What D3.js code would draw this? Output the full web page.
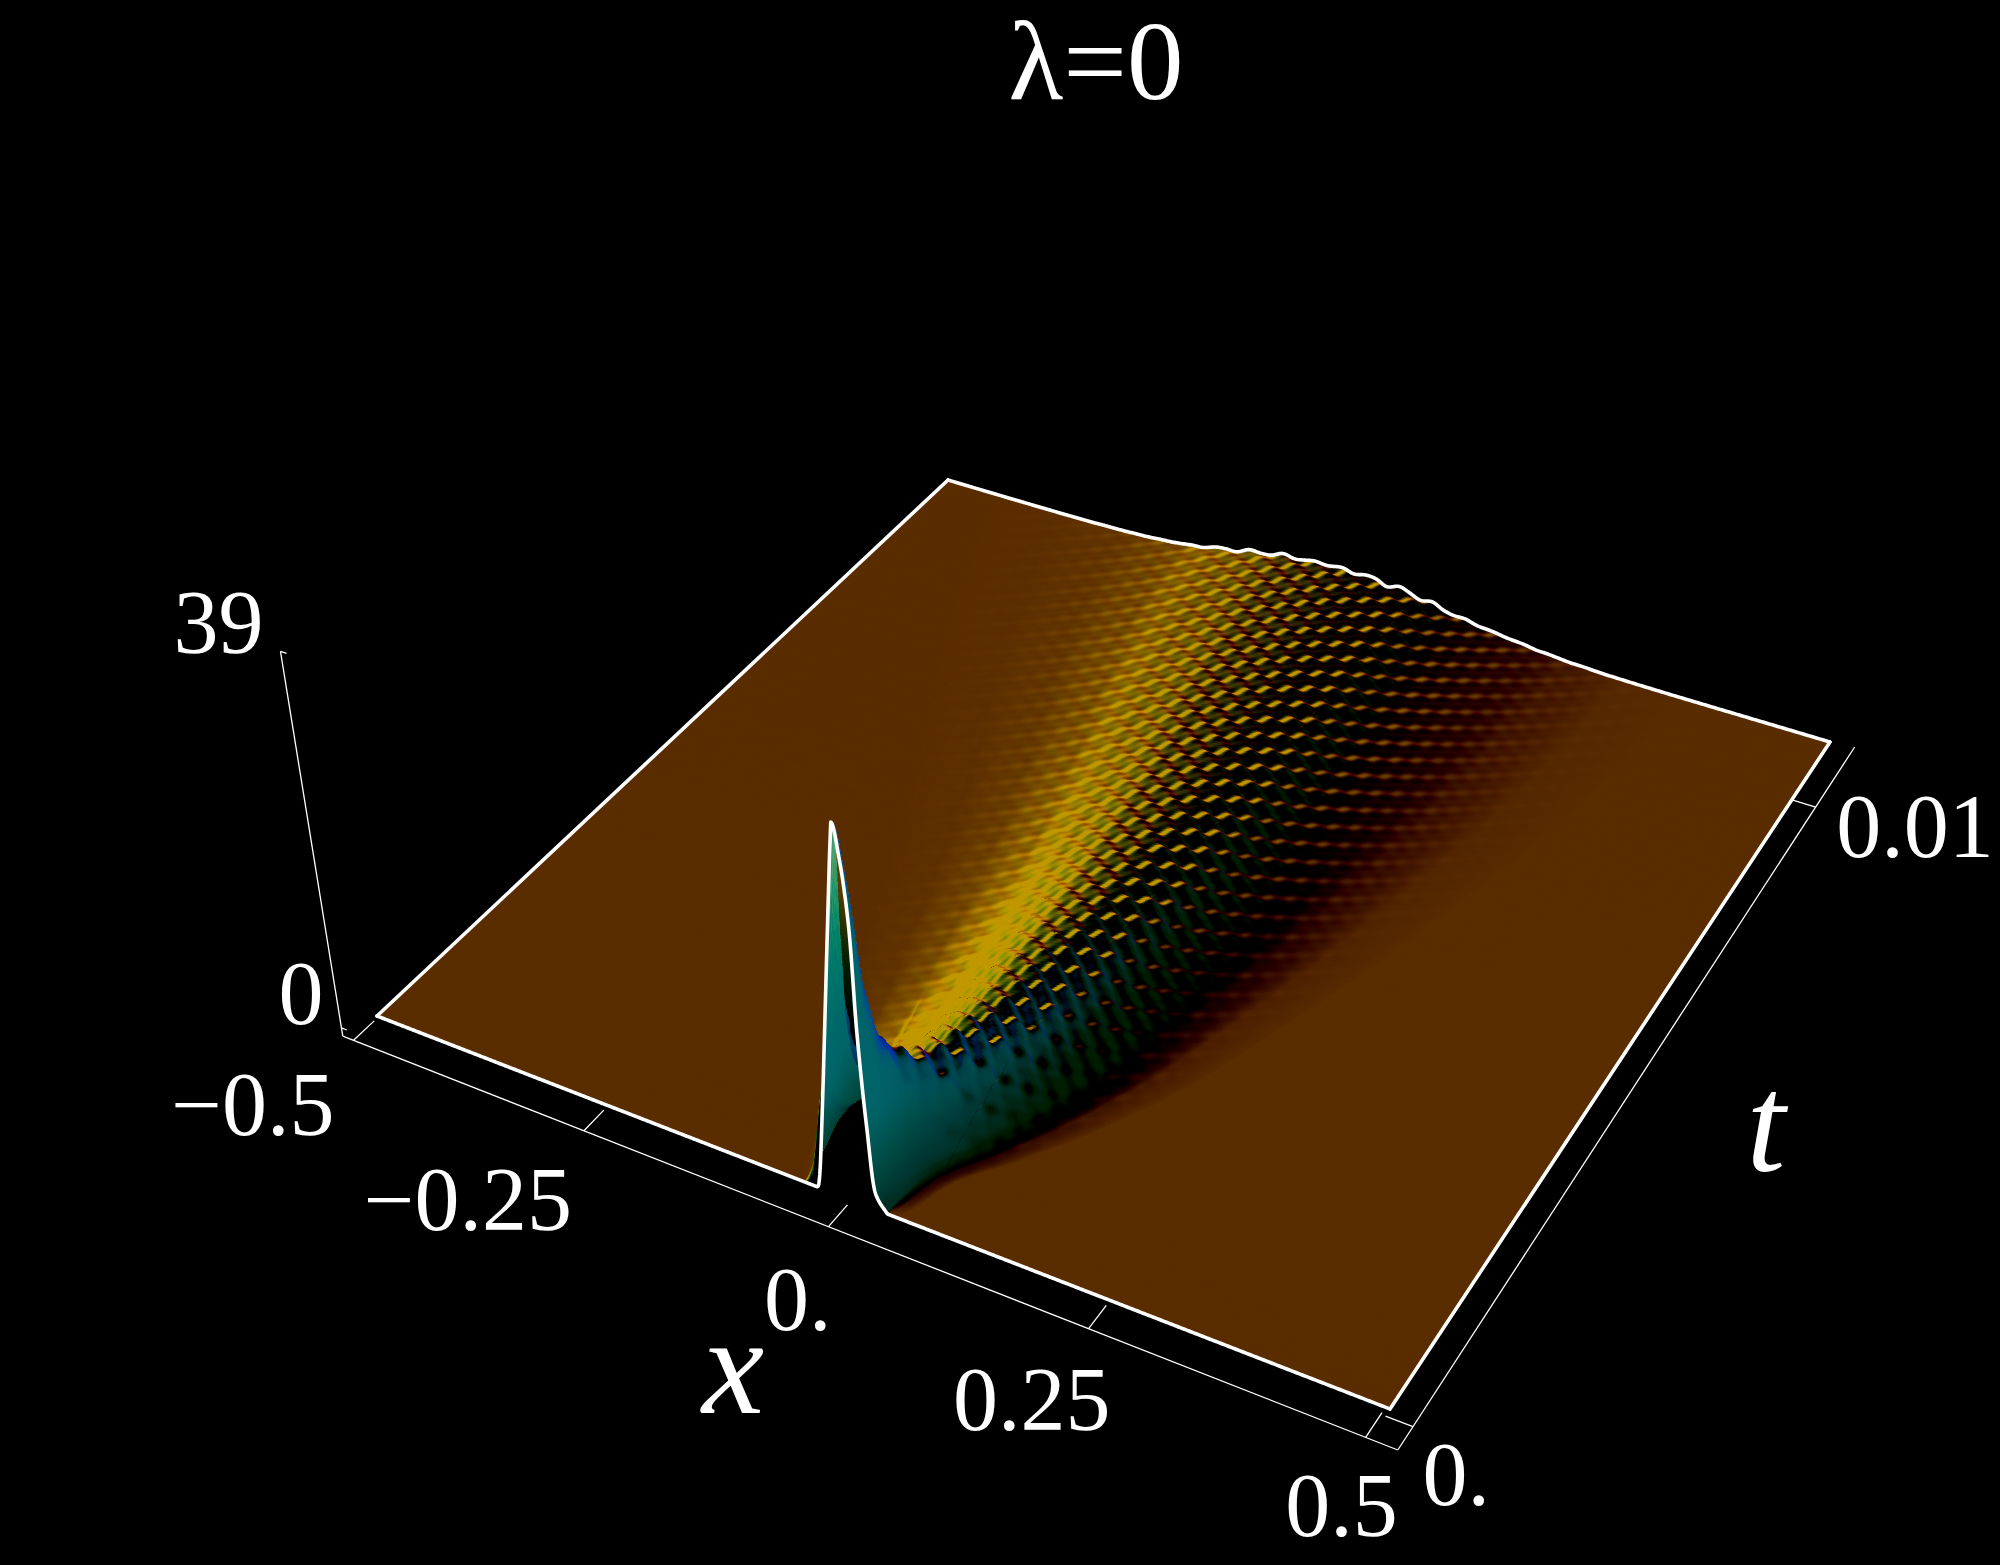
<!DOCTYPE html>
<html><head><meta charset="utf-8">
<style>html,body{margin:0;background:#000;width:2000px;height:1565px;overflow:hidden}
canvas,svg{position:absolute;left:0;top:0}
text{font-family:"Liberation Serif",serif;fill:#fff}</style>
<script src="https://cdn.jsdelivr.net/npm/d3@7/dist/d3.min.js"></script>
</head><body>
<canvas id="surface" width="2000" height="1565"></canvas>
<svg id="overlay" width="2000" height="1565"></svg>
<script>
// ---- values ----------------------------------------------------------
const titleText = "λ=0";
const xTicks = [-0.5, -0.25, 0, 0.25, 0.5];
const xTickLabels = ["−0.5", "−0.25", "0.", "0.25", "0.5"];
const tTicks = [0, 0.01];
const tTickLabels = ["0.", "0.01"];
const zTicks = [0, 39];
const zTickLabels = ["0", "39"];
// wave-packet summary against t (height, centre, half width, sharpness mix, ripple share): estimates
const tKnots   = [0, 0.0003, 0.0006, 0.0012, 0.002, 0.003, 0.0045, 0.0065, 0.0085, 0.011];
const humpH    = [39, 29, 19, 10, 7.0, 5.6, 4.6, 3.9, 3.5, 3.2];
const humpC    = [0, -0.001, -0.002, 0.008, 0.015, 0.02, 0.02, 0.01, -0.01, -0.03];
const humpW    = [0.032, 0.036, 0.042, 0.06, 0.085, 0.11, 0.14, 0.18, 0.22, 0.25];
const humpMix  = [0, 0.15, 0.35, 0.7, 0.95, 1, 1, 1, 1, 1];
const rippleShare = [0, 0.006, 0.012, 0.05, 0.07, 0.07, 0.06, 0.06, 0.06, 0.06];
// pulse section at t=0, same with its low left skirt just after t=0, and spread section at late t
const frontXi = [-1.6, -1.1, -1.06, -1.02, -0.99, -0.97, -0.955, -0.70, -0.40, -0.05, 0.34, 0.70, 1.0, 1.1, 1.6];
const frontZ  = [0, 0, 0.005, 0.05, 0.30, 0.77, 1, 0.92, 0.77, 0.49, 0.236, 0.046, 0.008, 0, 0];
const skirtXi = [-1.5, -1.3, -1.12, -1.02, -0.99, -0.97, -0.955, -0.70, -0.40, -0.05, 0.34, 0.70, 1.0, 1.1, 1.6];
const skirtZ  = [0, 0.05, 0.28, 0.36, 0.5, 0.8, 1, 0.92, 0.77, 0.49, 0.236, 0.046, 0.008, 0, 0];
const skirtT  = [0, 0.00005];
const skirtOn = [0, 1];
const lateXi  = [-1.7, -1.3, -1.0, -0.75, -0.53, -0.25, 0, 0.25, 0.53, 0.78, 1.0, 1.25, 1.55];
const lateZ   = [0, 0.012, 0.06, 0.2, 0.5, 0.88, 1, 0.88, 0.5, 0.25, 0.09, 0.015, 0];
// ripple lattice: cycles per unit x and per unit t of the two crossing wave trains (measured spacing)
const waveA = [28.9, 3544];
const waveB = [23.8, -3048];
const rippleMix = [1.0, 0.55, 0.15];
const rowSharpness = 0.35;

// ---- view calibration ------------------------------------------------
const cornerLeft = [377, 1016], cornerBottom = [1390, 1409], cornerRight = [1830, 742], cornerTop = [948, 480];
const nadir = [763, 3631];
const xDomain = [-0.5, 0.5], tDomain = [0, 0.011], zDomain = [-1, 39];
const xU = d3.scaleLinear().domain(xDomain).range([0, 1]);
const tV = d3.scaleLinear().domain(tDomain).range([0, 1]);
const axisU = [-0.018, 1.022], axisV = [-0.028, 1.018];
const zAxisStretch = 1.02;

function quadToH(p0, p1, p2, p3) {
  const dx1 = p1[0]-p2[0], dx2 = p3[0]-p2[0], sx = p0[0]-p1[0]+p2[0]-p3[0];
  const dy1 = p1[1]-p2[1], dy2 = p3[1]-p2[1], sy = p0[1]-p1[1]+p2[1]-p3[1];
  const den = dx1*dy2-dx2*dy1, g = (sx*dy2-dx2*sy)/den, h = (dx1*sy-sx*dy1)/den;
  return {a:p1[0]-p0[0]+g*p1[0], b:p3[0]-p0[0]+h*p3[0], c:p0[0], d:p1[1]-p0[1]+g*p1[1], e:p3[1]-p0[1]+h*p3[1], f:p0[1], g, h};
}
const H = quadToH(cornerLeft, cornerBottom, cornerRight, cornerTop);
const gammaZ = -(H.g*xU(-0.028)+1)*367/(39*2811);
function projUV(u, v, z) {
  const W = H.g*u+H.h*v+1+gammaZ*z;
  return [(H.a*u+H.b*v+H.c+nadir[0]*gammaZ*z)/W, (H.d*u+H.e*v+H.f+nadir[1]*gammaZ*z)/W];
}
const project = (x, t, z) => projUV(xU(x), tV(t), z);

// monotone cubic through a table
function table(xs, ys) {
  const n = xs.length, dl = [], m = new Array(n).fill(0);
  for (let i = 0; i < n-1; i++) dl[i] = (ys[i+1]-ys[i])/(xs[i+1]-xs[i]);
  for (let i = 1; i < n-1; i++) m[i] = dl[i-1]*dl[i] <= 0 ? 0 : 2*dl[i-1]*dl[i]/(dl[i-1]+dl[i]);
  return v => {
    if (v <= xs[0]) return ys[0];
    if (v >= xs[n-1]) return ys[n-1];
    let i = d3.bisectRight(xs, v)-1;
    const h = xs[i+1]-xs[i], s = (v-xs[i])/h, s2 = s*s, s3 = s2*s;
    return (2*s3-3*s2+1)*ys[i]+(s3-2*s2+s)*h*m[i]+(-2*s3+3*s2)*ys[i+1]+(s3-s2)*h*m[i+1];
  };
}
const fH = table(tKnots, humpH), fC = table(tKnots, humpC), fW = table(tKnots, humpW),
      fM = table(tKnots, humpMix), fR = table(tKnots, rippleShare),
      fFront = table(frontXi, frontZ), fSkirt = table(skirtXi, skirtZ), fLate = table(lateXi, lateZ),
      fOn = table(skirtT, skirtOn);

const TAU = 2*Math.PI;
function height(x, t, rowH, rowC, rowW, rowM, rowR, rowS) {
  const xi = (x-rowC)/rowW;
  const early = (1-rowS)*fFront(xi)+rowS*fSkirt(xi);
  const env = rowH*((1-rowM)*early+rowM*fLate(xi));
  if (env < 1e-4) return 0;
  const a = TAU*(waveA[0]*x+waveA[1]*t), b = TAU*(waveB[0]*x+waveB[1]*t);
  const rip = rippleMix[0]*Math.cos(a)+rippleMix[1]*(Math.sin(b)+rowSharpness*Math.sin(2*b))+rippleMix[2]*Math.cos(a+b);
  return env+rowR*env*rip;
}

// ---- mesh ------------------------------------------------------------
const xGrid = [], tGrid = [];
for (let x = -0.5; x < -0.08; x += 0.0016) xGrid.push(x);
for (let x = -0.08; x < 0.05; x += 0.0004) xGrid.push(x);
for (let x = 0.05; x <= 0.5001; x += 0.0016) xGrid.push(x);
for (let t = 0; t < 0.0015; t += 0.00001) tGrid.push(t);
for (let t = 0.0015; t <= 0.011001; t += 0.00002) tGrid.push(t);
const nx = xGrid.length, nt = tGrid.length;
const Z = new Float32Array(nx*nt), PX = new Float32Array(nx*nt), PY = new Float32Array(nx*nt);
for (let j = 0; j < nt; j++) {
  const t = tGrid[j], rh = fH(t), rc = fC(t), rw = fW(t), rm = fM(t), rr = fR(t), rs = fOn(t);
  for (let i = 0; i < nx; i++) {
    const z = height(xGrid[i], t, rh, rc, rw, rm, rr, rs), k = j*nx+i;
    Z[k] = z;
    const p = project(xGrid[i], t, z);
    PX[k] = p[0]; PY[k] = p[1];
  }
}

// ---- shading ---------------------------------------------------------
const zSlope = 0.012;
const sst = (a, b, v) => { const s = Math.max(0, Math.min(1, (v-a)/(b-a))); return s*s*(3-2*s); };
function shade(p, q, r, under, zf) {
  const steep = p > 0 ? Math.hypot(p, q) : 0;
  const qs = steep > 0 ? q/steep : 0;
  const low = 0.5+0.5*sst(0, 0.3, zf);
  let Rv = Math.min(0.76, Math.max(0, 0.36*r-1.15*p+0.7*q));
  let G1 = Math.min(0.6, Math.max(0, 0.18*r-1.1*p+0.42*q));
  let G2 = 0.12*sst(0.35, 0.6, p)+Math.max(0, 0.9*steep-0.62)*(1-0.6*sst(0.2, 0.7, qs))*low;
  let Bv = 0.55*sst(0.6, 0.97, steep)*(0.75+0.5*sst(0.2, 0.7, qs))*low;
  if (steep > 0.9) Rv = 0;
  if (under) { Rv += 0.38*sst(0.55, 0.9, zf); G2 += 0.25*sst(0.3, 0.9, zf); }
  const c = v => Math.round(Math.min(1, v)*255);
  return `rgb(${c(Rv)},${c(Math.max(G1, G2))},${c(Bv)})`;
}

const ctx = document.getElementById("surface").getContext("2d");
ctx.fillStyle = "#000"; ctx.fillRect(0, 0, 2000, 1565);
ctx.lineWidth = 0.8;
ctx.lineJoin = "round";
const flatTol = 0.0015, flatColour = shade(0, 0, 1, false, 0);
function fillRun(j, i0, i1) {
  ctx.fillStyle = flatColour; ctx.strokeStyle = flatColour;
  ctx.beginPath();
  const a = j*nx+i0, b = j*nx+i1, c = (j+1)*nx+i1, d = (j+1)*nx+i0;
  ctx.moveTo(PX[a], PY[a]); ctx.lineTo(PX[b], PY[b]); ctx.lineTo(PX[c], PY[c]); ctx.lineTo(PX[d], PY[d]);
  ctx.closePath(); ctx.fill(); ctx.stroke();
}
for (let j = nt-2; j >= 0; j--) {
  const dv = tV(tGrid[j+1])-tV(tGrid[j]);
  let run = -1;
  for (let i = 0; i < nx-1; i++) {
    const k00 = j*nx+i, k10 = k00+1, k01 = k00+nx, k11 = k01+1;
    if (Z[k00] < flatTol && Z[k10] < flatTol && Z[k01] < flatTol && Z[k11] < flatTol) {
      if (run < 0) run = i;
      continue;
    }
    if (run >= 0) { fillRun(j, run, i); run = -1; }
    const du = xGrid[i+1]-xGrid[i];
    const sx = zSlope*(Z[k10]+Z[k11]-Z[k00]-Z[k01])/(2*du);
    const st = zSlope*(Z[k01]+Z[k11]-Z[k00]-Z[k10])/(2*dv);
    const len = Math.hypot(sx, st, 1);
    let p = -sx/len, q = -st/len, r = 1/len;
    const area = (PX[k11]-PX[k00])*(PY[k01]-PY[k10])-(PX[k01]-PX[k10])*(PY[k11]-PY[k00]);
    const under = area > 0;
    if (under) { p = -p; q = -q; }
    const col = shade(p, q, r, under, Z[k00]/39);
    ctx.fillStyle = col; ctx.strokeStyle = col;
    ctx.beginPath();
    ctx.moveTo(PX[k00], PY[k00]); ctx.lineTo(PX[k10], PY[k10]); ctx.lineTo(PX[k11], PY[k11]); ctx.lineTo(PX[k01], PY[k01]);
    ctx.closePath(); ctx.fill(); ctx.stroke();
  }
  if (run >= 0) fillRun(j, run, nx-1);
}

// ---- outline, axes, labels ------------------------------------------
const svg = d3.select("#overlay");
const line = d3.line();
const edgeAt = j => d3.range(nx).map(i => [PX[j*nx+i], PY[j*nx+i]]);
const outline = [
  edgeAt(nt-1),
  edgeAt(0),
  [project(-0.5, 0, 0), project(-0.5, 0.011, 0)],
  [project(0.5, 0, 0), project(0.5, 0.011, 0)]
];
svg.append("g").selectAll("path").data(outline).join("path")
  .attr("d", line).attr("fill", "none").attr("stroke", "#fff").attr("stroke-width", 3.6)
  .attr("stroke-linejoin", "round").attr("stroke-linecap", "round");

const axisZ = zDomain[0];
const uOf = x => xU(x)-0.006, vOf = t => tV(t);
const zOf = z => z*zAxisStretch;
const axisLines = [
  [projUV(axisU[0], axisV[0], axisZ), projUV(axisU[1], axisV[0], axisZ)],
  [projUV(axisU[1], axisV[0], axisZ), projUV(axisU[1], axisV[1], axisZ)],
  [projUV(axisU[0], axisV[0], axisZ), projUV(axisU[0], axisV[0], zOf(zDomain[1]))]
];
const ticks = [
  ...xTicks.map(x => [projUV(uOf(x), axisV[0], axisZ), projUV(uOf(x), axisV[0]+0.03, axisZ)]),
  ...tTicks.map(t => [projUV(axisU[1], vOf(t), axisZ), projUV(axisU[1]-0.024, vOf(t), axisZ)]),
  ...zTicks.map(z => [projUV(axisU[0], axisV[0], zOf(z)), projUV(axisU[0]+0.006, axisV[0], zOf(z))])
];
svg.append("g").selectAll("path").data([...axisLines, ...ticks]).join("path")
  .attr("d", line).attr("fill", "none").attr("stroke", "#fff").attr("stroke-width", 1.3);

const fontSize = 90;
const xLabelOffset = [[-19, 95], [-12, 99], [3, 103], [22, 101], [32, 99]];
const tLabelOffset = [[77, 78], [178, 50]];
const zLabelOffset = [[-18, -4], [-17, 2]];
const labels = [
  ...xTicks.map((x, i) => { const p = projUV(uOf(x), axisV[0], axisZ); return {s:xTickLabels[i], x:p[0]+xLabelOffset[i][0], y:p[1]+xLabelOffset[i][1]}; }),
  ...tTicks.map((t, i) => { const p = projUV(axisU[1], vOf(t), axisZ); return {s:tTickLabels[i], x:p[0]+tLabelOffset[i][0], y:p[1]+tLabelOffset[i][1]}; }),
  ...zTicks.map((z, i) => { const p = projUV(axisU[0], axisV[0], zOf(z)); return {s:zTickLabels[i], x:p[0]+zLabelOffset[i][0], y:p[1]+zLabelOffset[i][1]}; })
];
svg.append("g").selectAll("text").data(labels).join("text")
  .attr("x", d => d.x).attr("y", d => d.y).attr("text-anchor", "end").attr("font-size", fontSize).text(d => d.s);
svg.append("text").attr("x", 1096).attr("y", 99).attr("text-anchor", "middle").attr("font-size", 113).text(titleText);
svg.append("text").attr("x", 733).attr("y", 1413).attr("text-anchor", "middle").attr("font-size", 140).attr("font-style", "italic").text("x");
svg.append("text").attr("x", 1766).attr("y", 1171).attr("text-anchor", "middle").attr("font-size", 140).attr("font-style", "italic").text("t");
</script>
</body></html>
